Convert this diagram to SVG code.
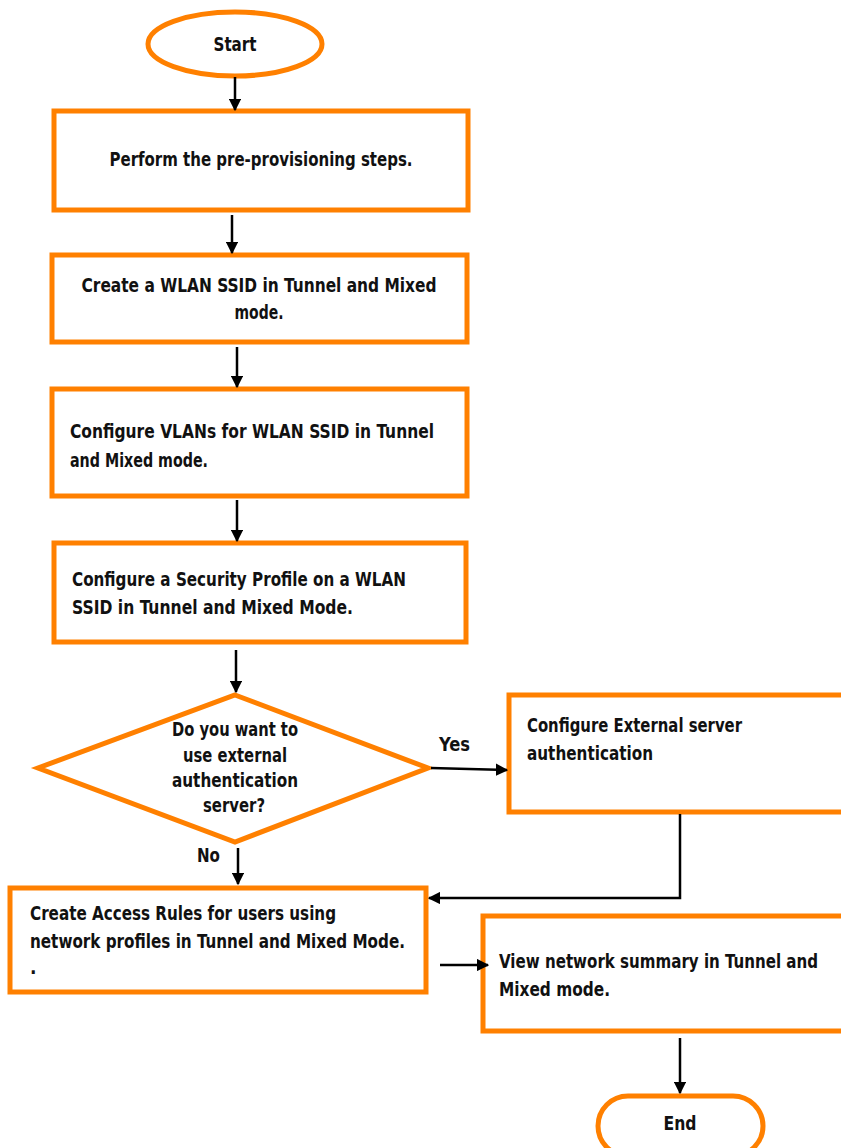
<svg xmlns="http://www.w3.org/2000/svg" width="841" height="1148" viewBox="0 0 841 1148">
  <style>
    .shape { fill: #ffffff; stroke: #ff8000; stroke-width: 5; }
    .lbl { font-family: "DejaVu Sans", "Liberation Sans", sans-serif; font-stretch: condensed; font-weight: bold; font-size: 19px; fill: #111111; }
    .mid { text-anchor: middle; }
    .wire { fill: none; stroke: #000000; stroke-width: 2.5; }
  </style>
  <defs>
    <marker id="head" viewBox="0 0 10 10" refX="9" refY="5" markerWidth="5" markerHeight="5" orient="auto" markerUnits="strokeWidth">
      <path d="M0,0 L10,5 L0,10 z" fill="#000000"/>
    </marker>
  </defs>
  <rect width="841" height="1148" fill="#ffffff"/>

  <g id="start">
    <ellipse class="shape" cx="235" cy="44" rx="87" ry="32"/>
    <text class="lbl mid" x="235" y="51" textLength="43" lengthAdjust="spacingAndGlyphs">Start</text>
  </g>

  <g id="preprovision">
    <rect class="shape" x="54" y="111" width="414" height="99"/>
    <text class="lbl mid" x="261" y="166" textLength="303" lengthAdjust="spacingAndGlyphs">Perform the pre-provisioning steps.</text>
  </g>

  <g id="create-ssid">
    <rect class="shape" x="52" y="255" width="415" height="87"/>
    <text class="lbl mid" x="259" y="292" textLength="355" lengthAdjust="spacingAndGlyphs">Create a WLAN SSID in Tunnel and Mixed</text>
    <text class="lbl mid" x="259" y="319" textLength="49" lengthAdjust="spacingAndGlyphs">mode.</text>
  </g>

  <g id="configure-vlans">
    <rect class="shape" x="52" y="389" width="415" height="107"/>
    <text class="lbl" x="70" y="438" textLength="364" lengthAdjust="spacingAndGlyphs">Configure VLANs for  WLAN SSID in Tunnel</text>
    <text class="lbl" x="70" y="467" textLength="138" lengthAdjust="spacingAndGlyphs">and Mixed mode.</text>
  </g>

  <g id="security-profile">
    <rect class="shape" x="54" y="543" width="412" height="99"/>
    <text class="lbl" x="72" y="586" textLength="334" lengthAdjust="spacingAndGlyphs">Configure a Security Profile on a WLAN</text>
    <text class="lbl" x="72" y="614" textLength="281" lengthAdjust="spacingAndGlyphs">SSID in Tunnel and Mixed Mode.</text>
  </g>

  <g id="decision">
    <polygon class="shape" points="235,695 428,768 235,842 38,768"/>
    <text class="lbl mid" x="235" y="736" textLength="126" lengthAdjust="spacingAndGlyphs">Do you want to</text>
    <text class="lbl mid" x="235" y="762" textLength="104" lengthAdjust="spacingAndGlyphs">use external</text>
    <text class="lbl mid" x="235" y="787" textLength="126" lengthAdjust="spacingAndGlyphs">authentication</text>
    <text class="lbl mid" x="234" y="812" textLength="62" lengthAdjust="spacingAndGlyphs">server?</text>
  </g>

  <g id="external-auth">
    <rect class="shape" x="509" y="695" width="340" height="117"/>
    <text class="lbl" x="527" y="732" textLength="215" lengthAdjust="spacingAndGlyphs">Configure External server</text>
    <text class="lbl" x="527" y="760" textLength="126" lengthAdjust="spacingAndGlyphs">authentication</text>
  </g>

  <g id="access-rules">
    <rect class="shape" x="10" y="888" width="416" height="104"/>
    <text class="lbl" x="30" y="920" textLength="306" lengthAdjust="spacingAndGlyphs">Create Access Rules for users using</text>
    <text class="lbl" x="30" y="948" textLength="375" lengthAdjust="spacingAndGlyphs">network profiles in Tunnel and Mixed Mode.</text>
    <text class="lbl" x="30" y="974">.</text>
  </g>

  <g id="network-summary">
    <rect class="shape" x="483" y="916" width="366" height="115"/>
    <text class="lbl" x="499" y="968" textLength="319" lengthAdjust="spacingAndGlyphs">View network summary in Tunnel and</text>
    <text class="lbl" x="499" y="996" textLength="111" lengthAdjust="spacingAndGlyphs">Mixed mode.</text>
  </g>

  <g id="end">
    <rect class="shape" x="598" y="1096" width="165" height="60" rx="30"/>
    <text class="lbl mid" x="680" y="1130" textLength="33" lengthAdjust="spacingAndGlyphs">End</text>
  </g>

  <g id="connectors">
    <path class="wire" d="M235,77 V110" marker-end="url(#head)"/>
    <path class="wire" d="M232,215 V253" marker-end="url(#head)"/>
    <path class="wire" d="M237,347 V387" marker-end="url(#head)"/>
    <path class="wire" d="M237,500 V541" marker-end="url(#head)"/>
    <path class="wire" d="M236,650 V692" marker-end="url(#head)"/>
    <path class="wire" d="M431,768 L507,770" marker-end="url(#head)"/>
    <path class="wire" d="M238,848 V884" marker-end="url(#head)"/>
    <path class="wire" d="M680,814 V898 H429" marker-end="url(#head)"/>
    <path class="wire" d="M440,965 L488,965" marker-end="url(#head)"/>
    <path class="wire" d="M680,1038 V1093" marker-end="url(#head)"/>
    <text class="lbl" x="439" y="751" textLength="31" lengthAdjust="spacingAndGlyphs">Yes</text>
    <text class="lbl" x="197" y="862" textLength="23" lengthAdjust="spacingAndGlyphs">No</text>
  </g>
</svg>
